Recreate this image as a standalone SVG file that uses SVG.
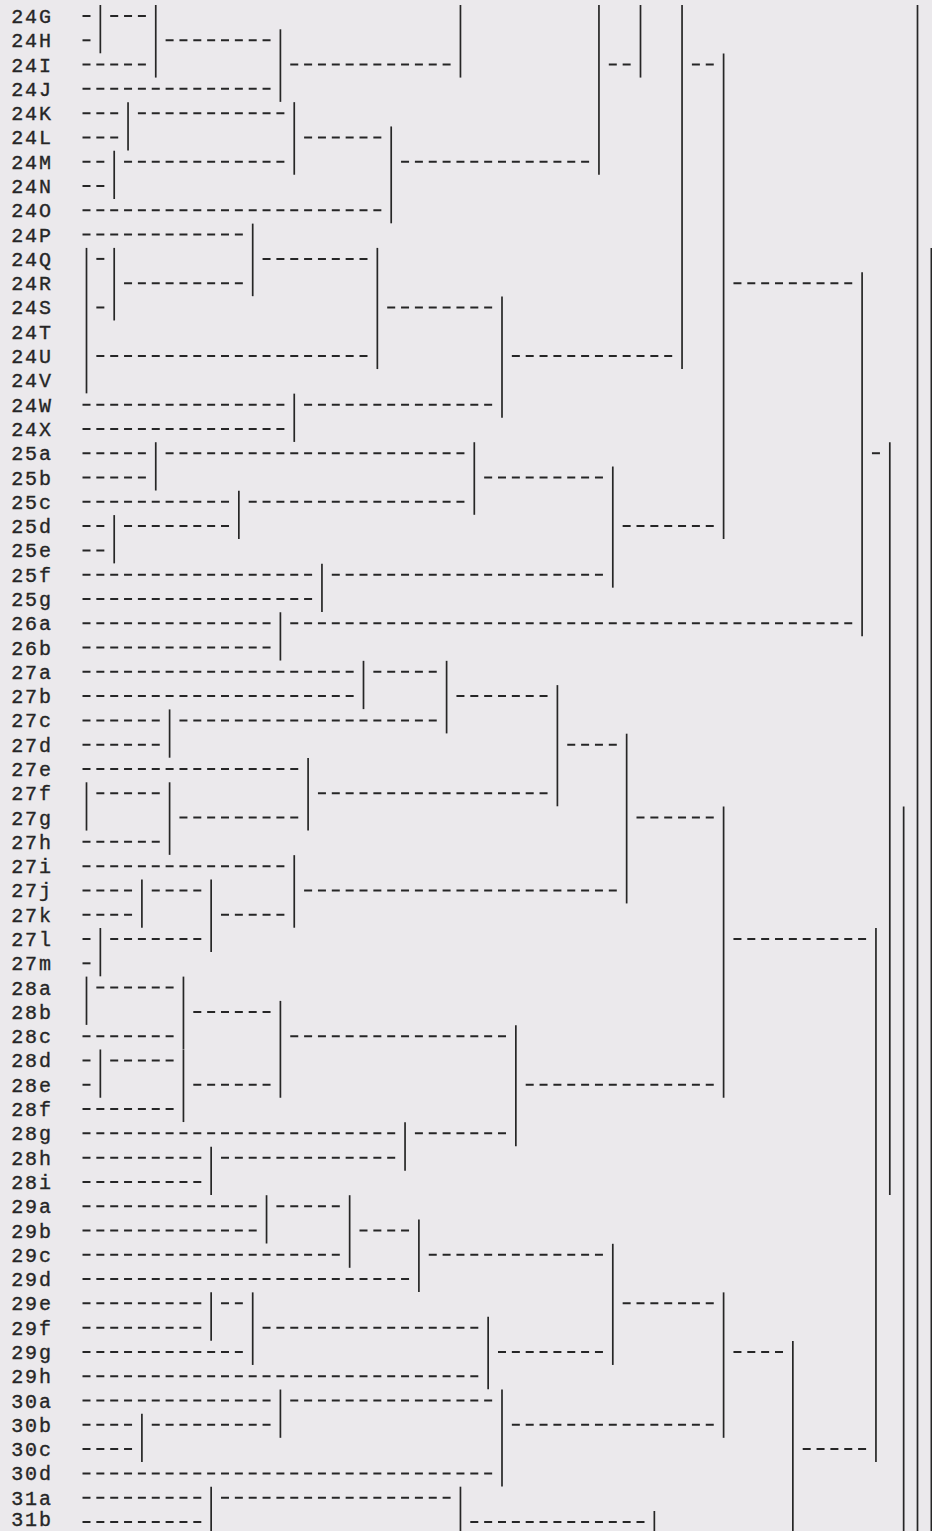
<svg xmlns="http://www.w3.org/2000/svg" width="932" height="1531" viewBox="0 0 932 1531">
<style>
.lbl{font-family:"Liberation Mono","Courier New",monospace;font-size:20px;letter-spacing:1.85px;fill:#262626;stroke:#262626;stroke-width:0.35}
.h{stroke:#262626;stroke-width:2;stroke-dasharray:8 5.85;fill:none}
.v{stroke:#262626;stroke-width:1.7;fill:none}
</style>
<rect x="0" y="0" width="932" height="1531" fill="#ebe9ec"/>
<g id="nodes">
<g id="n24G"><text class="lbl" x="11.25" y="23">24G</text></g>
<g id="n24H"><text class="lbl" x="11.25" y="47.29">24H</text></g>
<g id="n24I"><text class="lbl" x="11.25" y="71.58">24I</text></g>
<g id="n24J"><text class="lbl" x="11.25" y="95.87">24J</text></g>
<g id="n24K"><text class="lbl" x="11.25" y="120.16">24K</text></g>
<g id="n24L"><text class="lbl" x="11.25" y="144.45">24L</text></g>
<g id="n24M"><text class="lbl" x="11.25" y="168.74">24M</text></g>
<g id="n24N"><text class="lbl" x="11.25" y="193.03">24N</text></g>
<g id="n24O"><text class="lbl" x="11.25" y="217.32">24O</text></g>
<g id="n24P"><text class="lbl" x="11.25" y="241.61">24P</text></g>
<g id="n24Q"><text class="lbl" x="11.25" y="265.9">24Q</text></g>
<g id="n24R"><text class="lbl" x="11.25" y="290.19">24R</text></g>
<g id="n24S"><text class="lbl" x="11.25" y="314.48">24S</text></g>
<g id="n24T"><text class="lbl" x="11.25" y="338.77">24T</text></g>
<g id="n24U"><text class="lbl" x="11.25" y="363.06">24U</text></g>
<g id="n24V"><text class="lbl" x="11.25" y="387.35">24V</text></g>
<g id="n24W"><text class="lbl" x="11.25" y="411.64">24W</text></g>
<g id="n24X"><text class="lbl" x="11.25" y="435.93">24X</text></g>
<g id="n25a"><text class="lbl" x="11.25" y="460.22">25a</text></g>
<g id="n25b"><text class="lbl" x="11.25" y="484.51">25b</text></g>
<g id="n25c"><text class="lbl" x="11.25" y="508.8">25c</text></g>
<g id="n25d"><text class="lbl" x="11.25" y="533.09">25d</text></g>
<g id="n25e"><text class="lbl" x="11.25" y="557.38">25e</text></g>
<g id="n25f"><text class="lbl" x="11.25" y="581.67">25f</text></g>
<g id="n25g"><text class="lbl" x="11.25" y="605.96">25g</text></g>
<g id="n26a"><text class="lbl" x="11.25" y="630.25">26a</text></g>
<g id="n26b"><text class="lbl" x="11.25" y="654.54">26b</text></g>
<g id="n27a"><text class="lbl" x="11.25" y="678.83">27a</text></g>
<g id="n27b"><text class="lbl" x="11.25" y="703.12">27b</text></g>
<g id="n27c"><text class="lbl" x="11.25" y="727.41">27c</text></g>
<g id="n27d"><text class="lbl" x="11.25" y="751.7">27d</text></g>
<g id="n27e"><text class="lbl" x="11.25" y="775.99">27e</text></g>
<g id="n27f"><text class="lbl" x="11.25" y="800.28">27f</text></g>
<g id="n27g"><text class="lbl" x="11.25" y="824.57">27g</text></g>
<g id="n27h"><text class="lbl" x="11.25" y="848.86">27h</text></g>
<g id="n27i"><text class="lbl" x="11.25" y="873.15">27i</text></g>
<g id="n27j"><text class="lbl" x="11.25" y="897.44">27j</text></g>
<g id="n27k"><text class="lbl" x="11.25" y="921.73">27k</text></g>
<g id="n27l"><text class="lbl" x="11.25" y="946.02">27l</text></g>
<g id="n27m"><text class="lbl" x="11.25" y="970.31">27m</text></g>
<g id="n28a"><text class="lbl" x="11.25" y="994.6">28a</text></g>
<g id="n28b"><text class="lbl" x="11.25" y="1018.89">28b</text></g>
<g id="n28c"><text class="lbl" x="11.25" y="1043.18">28c</text></g>
<g id="n28d"><text class="lbl" x="11.25" y="1067.47">28d</text></g>
<g id="n28e"><text class="lbl" x="11.25" y="1091.76">28e</text></g>
<g id="n28f"><text class="lbl" x="11.25" y="1116.05">28f</text></g>
<g id="n28g"><text class="lbl" x="11.25" y="1140.34">28g</text></g>
<g id="n28h"><text class="lbl" x="11.25" y="1164.63">28h</text></g>
<g id="n28i"><text class="lbl" x="11.25" y="1188.92">28i</text></g>
<g id="n29a"><text class="lbl" x="11.25" y="1213.21">29a</text></g>
<g id="n29b"><text class="lbl" x="11.25" y="1237.5">29b</text></g>
<g id="n29c"><text class="lbl" x="11.25" y="1261.79">29c</text></g>
<g id="n29d"><text class="lbl" x="11.25" y="1286.08">29d</text></g>
<g id="n29e"><text class="lbl" x="11.25" y="1310.37">29e</text></g>
<g id="n29f"><text class="lbl" x="11.25" y="1334.66">29f</text></g>
<g id="n29g"><text class="lbl" x="11.25" y="1358.95">29g</text></g>
<g id="n29h"><text class="lbl" x="11.25" y="1383.24">29h</text></g>
<g id="n30a"><text class="lbl" x="11.25" y="1407.53">30a</text></g>
<g id="n30b"><text class="lbl" x="11.25" y="1431.82">30b</text></g>
<g id="n30c"><text class="lbl" x="11.25" y="1456.11">30c</text></g>
<g id="n30d"><text class="lbl" x="11.25" y="1480.4">30d</text></g>
<g id="n31a"><text class="lbl" x="11.25" y="1504.69">31a</text></g>
<g id="n31b"><text class="lbl" x="11.25" y="1526">31b</text></g>
</g>
<g id="connectors">
<line class="h" x1="82.5" y1="16" x2="90.5" y2="16"/>
<line class="h" x1="110.2" y1="16" x2="145.9" y2="16"/>
<line class="h" x1="82.5" y1="40.29" x2="90.5" y2="40.29"/>
<line class="h" x1="165.6" y1="40.29" x2="270.55" y2="40.29"/>
<line class="h" x1="82.5" y1="64.58" x2="145.9" y2="64.58"/>
<line class="h" x1="290.25" y1="64.58" x2="450.6" y2="64.58"/>
<line class="h" x1="608.8" y1="64.58" x2="630.65" y2="64.58"/>
<line class="h" x1="691.9" y1="64.58" x2="713.75" y2="64.58"/>
<line class="h" x1="82.5" y1="88.87" x2="270.55" y2="88.87"/>
<line class="h" x1="82.5" y1="113.16" x2="118.2" y2="113.16"/>
<line class="h" x1="137.9" y1="113.16" x2="284.4" y2="113.16"/>
<line class="h" x1="82.5" y1="137.45" x2="118.2" y2="137.45"/>
<line class="h" x1="304.1" y1="137.45" x2="381.35" y2="137.45"/>
<line class="h" x1="82.5" y1="161.74" x2="104.35" y2="161.74"/>
<line class="h" x1="124.05" y1="161.74" x2="284.4" y2="161.74"/>
<line class="h" x1="401.05" y1="161.74" x2="589.1" y2="161.74"/>
<line class="h" x1="82.5" y1="186.03" x2="104.35" y2="186.03"/>
<line class="h" x1="82.5" y1="210.32" x2="381.35" y2="210.32"/>
<line class="h" x1="82.5" y1="234.61" x2="242.85" y2="234.61"/>
<line class="h" x1="96.35" y1="258.9" x2="104.35" y2="258.9"/>
<line class="h" x1="262.55" y1="258.9" x2="367.5" y2="258.9"/>
<line class="h" x1="124.05" y1="283.19" x2="242.85" y2="283.19"/>
<line class="h" x1="733.45" y1="283.19" x2="852.25" y2="283.19"/>
<line class="h" x1="96.35" y1="307.48" x2="104.35" y2="307.48"/>
<line class="h" x1="387.2" y1="307.48" x2="492.15" y2="307.48"/>
<line class="h" x1="96.35" y1="356.06" x2="367.5" y2="356.06"/>
<line class="h" x1="511.85" y1="356.06" x2="672.2" y2="356.06"/>
<line class="h" x1="82.5" y1="404.64" x2="284.4" y2="404.64"/>
<line class="h" x1="304.1" y1="404.64" x2="492.15" y2="404.64"/>
<line class="h" x1="82.5" y1="428.93" x2="284.4" y2="428.93"/>
<line class="h" x1="82.5" y1="453.22" x2="145.9" y2="453.22"/>
<line class="h" x1="165.6" y1="453.22" x2="464.45" y2="453.22"/>
<line class="h" x1="871.95" y1="453.22" x2="879.95" y2="453.22"/>
<line class="h" x1="82.5" y1="477.51" x2="145.9" y2="477.51"/>
<line class="h" x1="484.15" y1="477.51" x2="602.95" y2="477.51"/>
<line class="h" x1="82.5" y1="501.8" x2="229" y2="501.8"/>
<line class="h" x1="248.7" y1="501.8" x2="464.45" y2="501.8"/>
<line class="h" x1="82.5" y1="526.09" x2="104.35" y2="526.09"/>
<line class="h" x1="124.05" y1="526.09" x2="229" y2="526.09"/>
<line class="h" x1="622.65" y1="526.09" x2="713.75" y2="526.09"/>
<line class="h" x1="82.5" y1="550.38" x2="104.35" y2="550.38"/>
<line class="h" x1="82.5" y1="574.67" x2="312.1" y2="574.67"/>
<line class="h" x1="331.8" y1="574.67" x2="602.95" y2="574.67"/>
<line class="h" x1="82.5" y1="598.96" x2="312.1" y2="598.96"/>
<line class="h" x1="82.5" y1="623.25" x2="270.55" y2="623.25"/>
<line class="h" x1="290.25" y1="623.25" x2="852.25" y2="623.25"/>
<line class="h" x1="82.5" y1="647.54" x2="270.55" y2="647.54"/>
<line class="h" x1="82.5" y1="671.83" x2="353.65" y2="671.83"/>
<line class="h" x1="373.35" y1="671.83" x2="436.75" y2="671.83"/>
<line class="h" x1="82.5" y1="696.12" x2="353.65" y2="696.12"/>
<line class="h" x1="456.45" y1="696.12" x2="547.55" y2="696.12"/>
<line class="h" x1="82.5" y1="720.41" x2="159.75" y2="720.41"/>
<line class="h" x1="179.45" y1="720.41" x2="436.75" y2="720.41"/>
<line class="h" x1="82.5" y1="744.7" x2="159.75" y2="744.7"/>
<line class="h" x1="567.25" y1="744.7" x2="616.8" y2="744.7"/>
<line class="h" x1="82.5" y1="768.99" x2="298.25" y2="768.99"/>
<line class="h" x1="96.35" y1="793.28" x2="159.75" y2="793.28"/>
<line class="h" x1="317.95" y1="793.28" x2="547.55" y2="793.28"/>
<line class="h" x1="179.45" y1="817.57" x2="298.25" y2="817.57"/>
<line class="h" x1="636.5" y1="817.57" x2="713.75" y2="817.57"/>
<line class="h" x1="82.5" y1="841.86" x2="159.75" y2="841.86"/>
<line class="h" x1="82.5" y1="866.15" x2="284.4" y2="866.15"/>
<line class="h" x1="82.5" y1="890.44" x2="132.05" y2="890.44"/>
<line class="h" x1="151.75" y1="890.44" x2="201.3" y2="890.44"/>
<line class="h" x1="304.1" y1="890.44" x2="616.8" y2="890.44"/>
<line class="h" x1="82.5" y1="914.73" x2="132.05" y2="914.73"/>
<line class="h" x1="221" y1="914.73" x2="284.4" y2="914.73"/>
<line class="h" x1="82.5" y1="939.02" x2="90.5" y2="939.02"/>
<line class="h" x1="110.2" y1="939.02" x2="201.3" y2="939.02"/>
<line class="h" x1="733.45" y1="939.02" x2="866.1" y2="939.02"/>
<line class="h" x1="82.5" y1="963.31" x2="90.5" y2="963.31"/>
<line class="h" x1="96.35" y1="987.6" x2="173.6" y2="987.6"/>
<line class="h" x1="193.3" y1="1011.89" x2="270.55" y2="1011.89"/>
<line class="h" x1="82.5" y1="1036.18" x2="173.6" y2="1036.18"/>
<line class="h" x1="290.25" y1="1036.18" x2="506" y2="1036.18"/>
<line class="h" x1="82.5" y1="1060.47" x2="90.5" y2="1060.47"/>
<line class="h" x1="110.2" y1="1060.47" x2="173.6" y2="1060.47"/>
<line class="h" x1="82.5" y1="1084.76" x2="90.5" y2="1084.76"/>
<line class="h" x1="193.3" y1="1084.76" x2="270.55" y2="1084.76"/>
<line class="h" x1="525.7" y1="1084.76" x2="713.75" y2="1084.76"/>
<line class="h" x1="82.5" y1="1109.05" x2="173.6" y2="1109.05"/>
<line class="h" x1="82.5" y1="1133.34" x2="395.2" y2="1133.34"/>
<line class="h" x1="414.9" y1="1133.34" x2="506" y2="1133.34"/>
<line class="h" x1="82.5" y1="1157.63" x2="201.3" y2="1157.63"/>
<line class="h" x1="221" y1="1157.63" x2="395.2" y2="1157.63"/>
<line class="h" x1="82.5" y1="1181.92" x2="201.3" y2="1181.92"/>
<line class="h" x1="82.5" y1="1206.21" x2="256.7" y2="1206.21"/>
<line class="h" x1="276.4" y1="1206.21" x2="339.8" y2="1206.21"/>
<line class="h" x1="82.5" y1="1230.5" x2="256.7" y2="1230.5"/>
<line class="h" x1="359.5" y1="1230.5" x2="409.05" y2="1230.5"/>
<line class="h" x1="82.5" y1="1254.79" x2="339.8" y2="1254.79"/>
<line class="h" x1="428.75" y1="1254.79" x2="602.95" y2="1254.79"/>
<line class="h" x1="82.5" y1="1279.08" x2="409.05" y2="1279.08"/>
<line class="h" x1="82.5" y1="1303.37" x2="201.3" y2="1303.37"/>
<line class="h" x1="221" y1="1303.37" x2="242.85" y2="1303.37"/>
<line class="h" x1="622.65" y1="1303.37" x2="713.75" y2="1303.37"/>
<line class="h" x1="82.5" y1="1327.66" x2="201.3" y2="1327.66"/>
<line class="h" x1="262.55" y1="1327.66" x2="478.3" y2="1327.66"/>
<line class="h" x1="82.5" y1="1351.95" x2="242.85" y2="1351.95"/>
<line class="h" x1="498" y1="1351.95" x2="602.95" y2="1351.95"/>
<line class="h" x1="733.45" y1="1351.95" x2="783" y2="1351.95"/>
<line class="h" x1="82.5" y1="1376.24" x2="478.3" y2="1376.24"/>
<line class="h" x1="82.5" y1="1400.53" x2="270.55" y2="1400.53"/>
<line class="h" x1="290.25" y1="1400.53" x2="492.15" y2="1400.53"/>
<line class="h" x1="82.5" y1="1424.82" x2="132.05" y2="1424.82"/>
<line class="h" x1="151.75" y1="1424.82" x2="270.55" y2="1424.82"/>
<line class="h" x1="511.85" y1="1424.82" x2="713.75" y2="1424.82"/>
<line class="h" x1="82.5" y1="1449.11" x2="132.05" y2="1449.11"/>
<line class="h" x1="802.7" y1="1449.11" x2="866.1" y2="1449.11"/>
<line class="h" x1="82.5" y1="1473.4" x2="492.15" y2="1473.4"/>
<line class="h" x1="82.5" y1="1497.69" x2="201.3" y2="1497.69"/>
<line class="h" x1="221" y1="1497.69" x2="450.6" y2="1497.69"/>
<line class="h" x1="82.5" y1="1521.98" x2="201.3" y2="1521.98"/>
<line class="h" x1="470.3" y1="1521.98" x2="644.5" y2="1521.98"/>
<line class="v" x1="100.35" y1="5" x2="100.35" y2="53.29"/>
<line class="v" x1="155.75" y1="5" x2="155.75" y2="77.58"/>
<line class="v" x1="280.4" y1="29.29" x2="280.4" y2="101.87"/>
<line class="v" x1="460.45" y1="5" x2="460.45" y2="77.58"/>
<line class="v" x1="598.95" y1="5" x2="598.95" y2="174.74"/>
<line class="v" x1="640.5" y1="5" x2="640.5" y2="77.58"/>
<line class="v" x1="682.05" y1="5" x2="682.05" y2="369.06"/>
<line class="v" x1="723.6" y1="53.58" x2="723.6" y2="539.09"/>
<line class="v" x1="917.5" y1="5" x2="917.5" y2="1531"/>
<line class="v" x1="931.35" y1="247.9" x2="931.35" y2="1531"/>
<line class="v" x1="128.05" y1="102.16" x2="128.05" y2="150.45"/>
<line class="v" x1="294.25" y1="102.16" x2="294.25" y2="174.74"/>
<line class="v" x1="114.2" y1="150.74" x2="114.2" y2="199.03"/>
<line class="v" x1="391.2" y1="126.45" x2="391.2" y2="223.32"/>
<line class="v" x1="252.7" y1="223.61" x2="252.7" y2="296.19"/>
<line class="v" x1="86.5" y1="247.9" x2="86.5" y2="393.35"/>
<line class="v" x1="114.2" y1="247.9" x2="114.2" y2="320.48"/>
<line class="v" x1="377.35" y1="247.9" x2="377.35" y2="369.06"/>
<line class="v" x1="502" y1="296.48" x2="502" y2="417.64"/>
<line class="v" x1="294.25" y1="393.64" x2="294.25" y2="441.93"/>
<line class="v" x1="862.1" y1="272.19" x2="862.1" y2="636.25"/>
<line class="v" x1="889.8" y1="442.22" x2="889.8" y2="1194.92"/>
<line class="v" x1="155.75" y1="442.22" x2="155.75" y2="490.51"/>
<line class="v" x1="474.3" y1="442.22" x2="474.3" y2="514.8"/>
<line class="v" x1="238.85" y1="490.8" x2="238.85" y2="539.09"/>
<line class="v" x1="114.2" y1="515.09" x2="114.2" y2="563.38"/>
<line class="v" x1="612.8" y1="466.51" x2="612.8" y2="587.67"/>
<line class="v" x1="321.95" y1="563.67" x2="321.95" y2="611.96"/>
<line class="v" x1="280.4" y1="612.25" x2="280.4" y2="660.54"/>
<line class="v" x1="363.5" y1="660.83" x2="363.5" y2="709.12"/>
<line class="v" x1="446.6" y1="660.83" x2="446.6" y2="733.41"/>
<line class="v" x1="169.6" y1="709.41" x2="169.6" y2="757.7"/>
<line class="v" x1="557.4" y1="685.12" x2="557.4" y2="806.28"/>
<line class="v" x1="626.65" y1="733.7" x2="626.65" y2="903.44"/>
<line class="v" x1="308.1" y1="757.99" x2="308.1" y2="830.57"/>
<line class="v" x1="86.5" y1="782.28" x2="86.5" y2="830.57"/>
<line class="v" x1="169.6" y1="782.28" x2="169.6" y2="854.86"/>
<line class="v" x1="723.6" y1="806.57" x2="723.6" y2="1097.76"/>
<line class="v" x1="903.65" y1="806.57" x2="903.65" y2="1531"/>
<line class="v" x1="294.25" y1="855.15" x2="294.25" y2="927.73"/>
<line class="v" x1="141.9" y1="879.44" x2="141.9" y2="927.73"/>
<line class="v" x1="211.15" y1="879.44" x2="211.15" y2="952.02"/>
<line class="v" x1="100.35" y1="928.02" x2="100.35" y2="976.31"/>
<line class="v" x1="875.95" y1="928.02" x2="875.95" y2="1462.11"/>
<line class="v" x1="86.5" y1="976.6" x2="86.5" y2="1024.89"/>
<line class="v" x1="183.45" y1="976.6" x2="183.45" y2="1049.18"/>
<line class="v" x1="280.4" y1="1000.89" x2="280.4" y2="1097.76"/>
<line class="v" x1="100.35" y1="1049.47" x2="100.35" y2="1097.76"/>
<line class="v" x1="183.45" y1="1049.47" x2="183.45" y2="1122.05"/>
<line class="v" x1="515.85" y1="1025.18" x2="515.85" y2="1146.34"/>
<line class="v" x1="405.05" y1="1122.34" x2="405.05" y2="1170.63"/>
<line class="v" x1="211.15" y1="1146.63" x2="211.15" y2="1194.92"/>
<line class="v" x1="266.55" y1="1195.21" x2="266.55" y2="1243.5"/>
<line class="v" x1="349.65" y1="1195.21" x2="349.65" y2="1267.79"/>
<line class="v" x1="418.9" y1="1219.5" x2="418.9" y2="1292.08"/>
<line class="v" x1="612.8" y1="1243.79" x2="612.8" y2="1364.95"/>
<line class="v" x1="211.15" y1="1292.37" x2="211.15" y2="1340.66"/>
<line class="v" x1="252.7" y1="1292.37" x2="252.7" y2="1364.95"/>
<line class="v" x1="488.15" y1="1316.66" x2="488.15" y2="1389.24"/>
<line class="v" x1="723.6" y1="1292.37" x2="723.6" y2="1437.82"/>
<line class="v" x1="792.85" y1="1340.95" x2="792.85" y2="1531"/>
<line class="v" x1="280.4" y1="1389.53" x2="280.4" y2="1437.82"/>
<line class="v" x1="141.9" y1="1413.82" x2="141.9" y2="1462.11"/>
<line class="v" x1="502" y1="1389.53" x2="502" y2="1486.4"/>
<line class="v" x1="211.15" y1="1486.69" x2="211.15" y2="1531"/>
<line class="v" x1="460.45" y1="1486.69" x2="460.45" y2="1531"/>
<line class="v" x1="654.35" y1="1510.98" x2="654.35" y2="1531"/>
</g>
</svg>
